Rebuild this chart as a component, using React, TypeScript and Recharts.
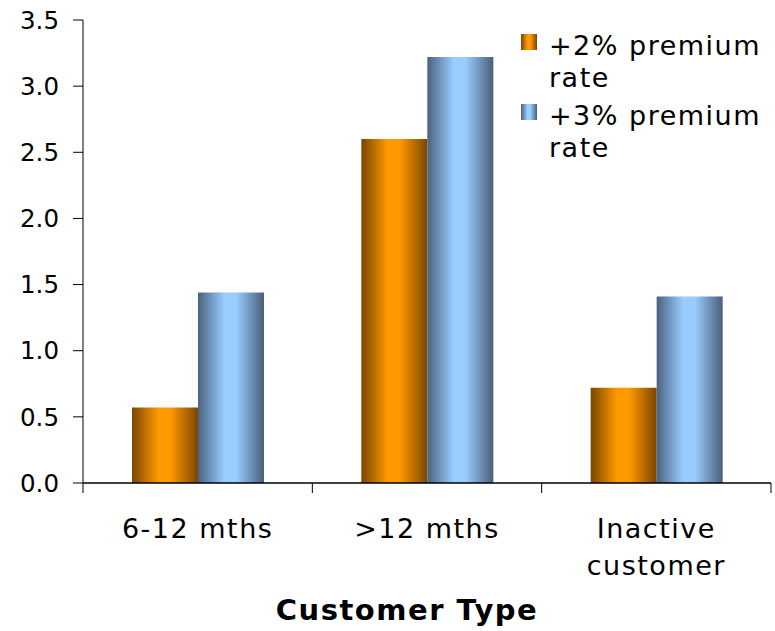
import { Bar, BarChart, Label, Legend, XAxis, YAxis } from "recharts";

const CATEGORIES = ["6-12 mths", ">12 mths", "Inactive customer"];
const RATE_2 = [0.57, 2.6, 0.72];
const RATE_3 = [1.44, 3.22, 1.41];
const Y_TICKS = [0, 0.5, 1, 1.5, 2, 2.5, 3, 3.5];

const FONT = "'DejaVu Sans', Verdana, sans-serif";

const SERIES = [
  {
    key: "rate2",
    name: "+2% premium rate",
    gradientId: "barOrange",
    stops: ["#7a4600", "#ff9900", "#ff9900", "#7a4600"],
  },
  {
    key: "rate3",
    name: "+3% premium rate",
    gradientId: "barBlue",
    stops: ["#4a6280", "#99ccff", "#99ccff", "#4a5e7a"],
  },
];
const STOP_OFFSETS = ["0%", "40%", "58%", "100%"];

const data = CATEGORIES.map((name, i) => ({
  name,
  rate2: RATE_2[i],
  rate3: RATE_3[i],
}));

// category label plus tick marks on the band edges (not the centre)
function CategoryTick(props: any) {
  const { x, y, payload, index, width } = props;
  const half = (width || 688) / CATEGORIES.length / 2;
  const axisY = y - 12;
  const label = String(payload.value);
  const lines = label.length > 10 ? label.split(" ") : [label];
  return (
    <g>
      <line x1={x - half} x2={x - half} y1={axisY} y2={axisY + 10} stroke="#000" />
      {index === CATEGORIES.length - 1 && (
        <line x1={x + half} x2={x + half} y1={axisY} y2={axisY + 10} stroke="#000" />
      )}
      <text
        x={x}
        y={axisY + 55}
        textAnchor="middle"
        fontFamily={FONT}
        fontSize={27}
        letterSpacing={1.5}
        fill="#000"
      >
        {lines.map((line, i) => (
          <tspan key={i} x={x} dy={i === 0 ? 0 : 37}>
            {line}
          </tspan>
        ))}
      </text>
    </g>
  );
}

function LegendBox() {
  return (
    <div style={{ fontFamily: FONT, fontSize: 27, letterSpacing: 1.5, color: "#000" }}>
      {SERIES.map((s) => (
        <div key={s.key} style={{ display: "flex", marginBottom: 7 }}>
          <div
            style={{
              width: 16,
              height: 16,
              marginTop: 4,
              marginRight: 12,
              flex: "none",
              background: `linear-gradient(to right, ${s.stops[0]} 0%, ${s.stops[1]} 40%, ${s.stops[2]} 58%, ${s.stops[3]} 100%)`,
            }}
          />
          <div style={{ width: 226, lineHeight: "31.5px" }}>{s.name}</div>
        </div>
      ))}
    </div>
  );
}

export default function App() {
  return (
    <div style={{ position: "absolute", left: 0, top: 0, background: "#fff" }}>
      <BarChart
        width={775}
        height={631}
        data={data}
        margin={{ top: 20, right: 4, bottom: 0, left: 0 }}
        barGap={0}
        barSize={66}
      >
        <defs>
          {SERIES.map((s) => (
            <linearGradient key={s.gradientId} id={s.gradientId} x1="0" y1="0" x2="1" y2="0">
              {s.stops.map((c, i) => (
                <stop key={i} offset={STOP_OFFSETS[i]} stopColor={c} />
              ))}
            </linearGradient>
          ))}
        </defs>
        <XAxis
          dataKey="name"
          height={148}
          tickSize={10}
          tickMargin={2}
          axisLine={{ stroke: "#000", strokeWidth: 1.5 }}
          tickLine={false}
          tick={<CategoryTick />}
          interval={0}
        >
          <Label
            content={({ viewBox }: any) => (
              <text
                x={viewBox.x + viewBox.width / 2 - 20}
                y={viewBox.y + 137}
                textAnchor="middle"
                fontFamily={FONT}
                fontSize={29}
                fontWeight="bold"
                letterSpacing={1.5}
                fill="#000"
              >
                Customer Type
              </text>
            )}
          />
        </XAxis>
        <YAxis
          width={83}
          domain={[0, 3.5]}
          ticks={Y_TICKS}
          tickSize={10}
          tickMargin={14}
          tickFormatter={(v) => Number(v).toFixed(1)}
          axisLine={{ stroke: "#000" }}
          tickLine={{ stroke: "#000" }}
          tick={{ fontSize: 24.5, fill: "#000", fontFamily: FONT }}
        />
        <Legend
          layout="vertical"
          align="center"
          verticalAlign="middle"
          content={() => <LegendBox />}
          wrapperStyle={{ left: 521, top: 30, width: 254 }}
        />
        {SERIES.map((s) => (
          <Bar
            key={s.key}
            dataKey={s.key}
            name={s.name}
            fill={`url(#${s.gradientId})`}
            isAnimationActive={false}
          />
        ))}
      </BarChart>
    </div>
  );
}
